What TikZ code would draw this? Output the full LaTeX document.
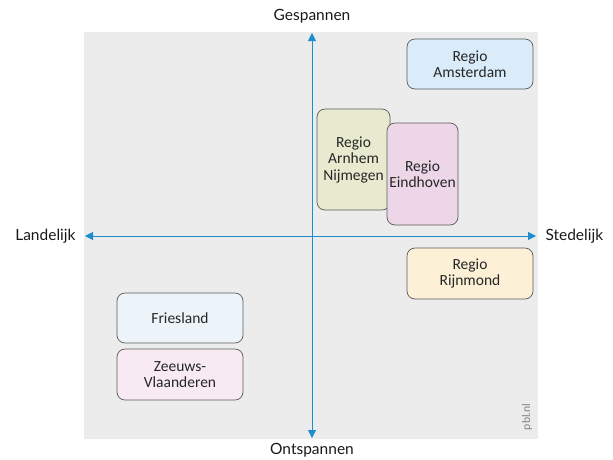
\documentclass[tikz,border=0pt]{standalone}
\usepackage{fontspec}
\setmainfont{Carlito}
\newfontfamily\axisfont{Lato}
\usetikzlibrary{arrows.meta}
\definecolor{axisblue}{RGB}{28,142,208}
\definecolor{panelgray}{RGB}{236,236,236}
\definecolor{boxline}{RGB}{90,90,90}
\definecolor{amsfill}{RGB}{218,236,249}
\definecolor{arnfill}{RGB}{232,234,208}
\definecolor{eindfill}{RGB}{237,214,231}
\definecolor{rijnfill}{RGB}{252,240,214}
\definecolor{friesfill}{RGB}{236,244,250}
\definecolor{zeeuwsfill}{RGB}{248,234,242}

\begin{document}
\begin{tikzpicture}[x=1pt,y=-1pt,
  regio/.style={draw=boxline,line width=0.7pt,rounded corners=8pt,align=center,
    text=black!85,inner sep=0pt,font=\fontsize{15.5}{16.5}\selectfont},
  axislabel/.style={text=black!90,font=\axisfont\fontsize{15.5}{18}\selectfont},
  axis/.style={axisblue,line width=1pt,{Triangle[length=8pt,width=8pt]}-{Triangle[length=8pt,width=8pt]}}]
\useasboundingbox (0,0) rectangle (613,459);
\fill[panelgray] (84,32) rectangle (538,439);
\coordinate (west) at (85,236);
\coordinate (east) at (536,236);
\coordinate (north) at (312,33);
\coordinate (south) at (312,438);
\draw[axis] (west)--(east);
\draw[axis] (south)--(north);
\node[axislabel,anchor=east] (landelijk) at (79,236) {Landelijk};
\node[axislabel,anchor=west] (stedelijk) at (542,236) {Stedelijk};
\node[axislabel] (gespannen) at (312,16) {Gespannen};
\node[axislabel] (ontspannen) at (312,450) {Ontspannen};
\node[regio,fill=amsfill,minimum width=126pt,minimum height=50pt] (amsterdam) at (470,64) {Regio\\Amsterdam};
\node[regio,fill=arnfill,minimum width=73pt,minimum height=101pt] (arnhem) at (353.5,159.5) {Regio\\Arnhem\\Nijmegen};
\node[regio,fill=eindfill,minimum width=71pt,minimum height=102pt] (eindhoven) at (422.5,174) {Regio\\Eindhoven};
\node[regio,fill=rijnfill,minimum width=126pt,minimum height=51pt] (rijnmond) at (470,273.5) {Regio\\Rijnmond};
\node[regio,fill=friesfill,minimum width=126pt,minimum height=50pt] (friesland) at (180,318) {Friesland};
\node[regio,fill=zeeuwsfill,minimum width=126pt,minimum height=51pt] (zeeuws) at (180,374.5) {Zeeuws-\\Vlaanderen};
\node[gray,font=\axisfont\fontsize{11}{12}\selectfont,rotate=90] (pbl) at (527,417) {pbl.nl};
\end{tikzpicture}
\end{document}
